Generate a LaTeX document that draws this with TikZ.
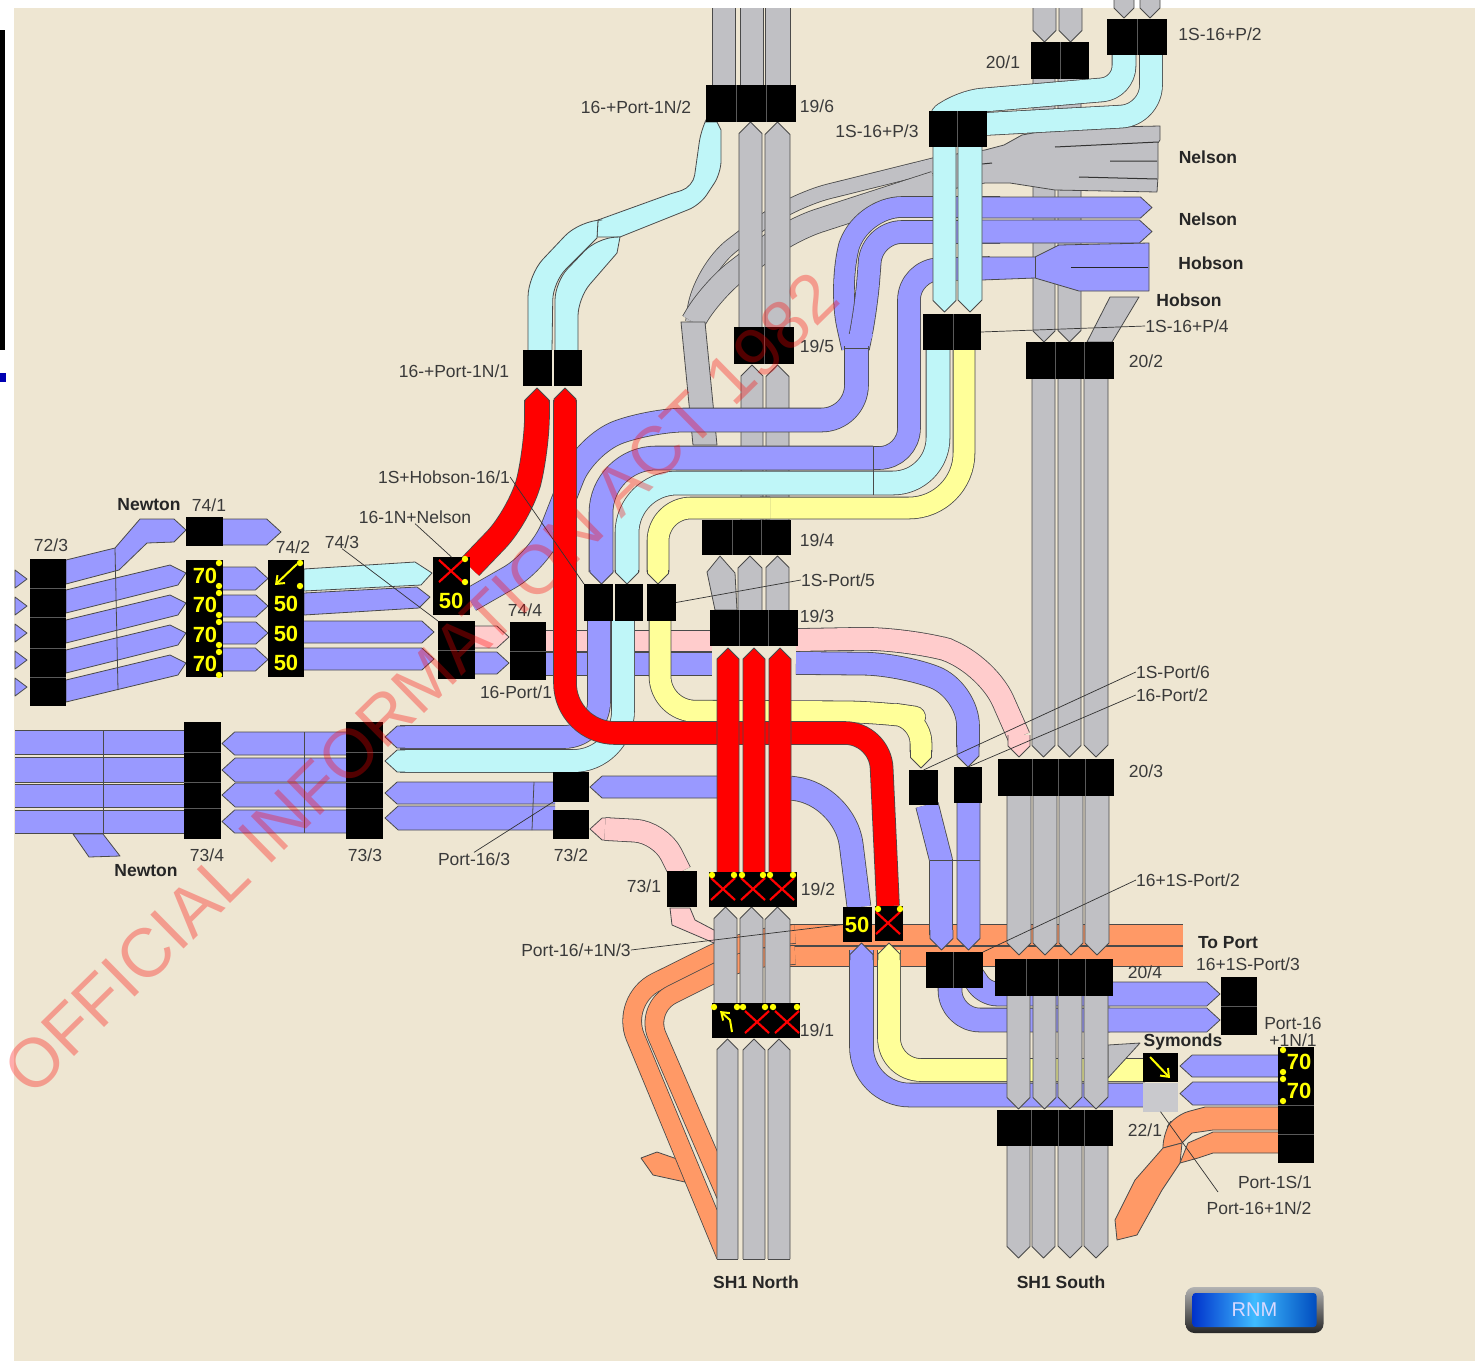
\documentclass[tikz,border=0pt]{standalone}
\usepackage{fontspec}
\setmainfont{Liberation Sans}
\usetikzlibrary{arrows.meta}
\definecolor{bgc}{HTML}{EEE6D2}
\definecolor{lblue}{HTML}{9999FF}
\definecolor{lcyan}{HTML}{BFF6F8}
\definecolor{lpink}{HTML}{FFCCCC}
\definecolor{lyel}{HTML}{FFFF99}
\definecolor{lgray}{HTML}{C0C0C4}
\definecolor{lorng}{HTML}{FF9966}
\definecolor{lred}{HTML}{FF0000}
\definecolor{edgec}{HTML}{4A4A4A}
\definecolor{txtc}{HTML}{3A3A3A}
\definecolor{sigy}{HTML}{FFFF00}
\tikzset{
 ln/.style={draw=edgec,line width=.8pt,line join=round},
 lab/.style={font=\fontsize{17.5}{18}\selectfont,text=txtc,inner sep=0pt},
 blab/.style={font=\fontsize{17.5}{18}\selectfont\bfseries,text=black!85,inner sep=0pt},
 sig/.style={font=\fontsize{22}{22}\selectfont\bfseries,text=sigy,inner sep=0pt},
 lead/.style={draw=black!80,line width=.7pt},
 bk/.style={fill=black,draw=none,inner sep=0pt,outer sep=0pt},
 subl/.style={draw=black!65!white,line width=.6pt},
 xm/.style={draw=lred,line width=2.2pt},
 arw/.style={draw=sigy,line width=2pt,-{Straight Barb[length=7pt,width=11pt]}}
}
\newcommand\myblk[5]{\node[bk,minimum width={(#4-#2)*1pt},minimum height={(#5-#3)*1pt}] (#1) at ({(#2+#4)/2},{(#3+#5)/2}) {};}
% colour, width, corner radius, path
\newcommand\mylane[4]{\draw[ln,double=#1,double distance=#2pt,rounded corners=#3pt] #4;}
\newcommand\mypoly[2]{\filldraw[ln,fill=#1] #2 -- cycle;}
\newcommand\myvdn[5]{\pgfmathsetmacro\myS{(#3-#2)*.5}
 \fill[#1] (#2,#4)--(#2,{#5-\myS})--({(#2+#3)/2},#5)--(#3,{#5-\myS})--(#3,#4)--cycle;
 \draw[ln] (#2,#4)--(#2,{#5-\myS})--({(#2+#3)/2},#5)--(#3,{#5-\myS})--(#3,#4);}
\newcommand\myvup[5]{\pgfmathsetmacro\myS{(#3-#2)*.5}
 \fill[#1] (#2,#5)--(#2,{#4+\myS})--({(#2+#3)/2},#4)--(#3,{#4+\myS})--(#3,#5)--cycle;
 \draw[ln] (#2,#5)--(#2,{#4+\myS})--({(#2+#3)/2},#4)--(#3,{#4+\myS})--(#3,#5);}
\newcommand\myvbar[5]{\fill[#1] (#2,#4) rectangle (#3,#5);\draw[ln] (#2,#4)--(#2,#5) (#3,#4)--(#3,#5);}
\newcommand\myhrt[5]{\pgfmathsetmacro\myS{(#5-#4)*.55}
 \fill[#1] (#2,#4)--({#3-\myS},#4)--(#3,{(#4+#5)/2})--({#3-\myS},#5)--(#2,#5)--cycle;
 \draw[ln] (#2,#4)--({#3-\myS},#4)--(#3,{(#4+#5)/2})--({#3-\myS},#5)--(#2,#5);}
\newcommand\myhlf[5]{\pgfmathsetmacro\myS{(#5-#4)*.55}
 \fill[#1] (#3,#4)--({#2+\myS},#4)--(#2,{(#4+#5)/2})--({#2+\myS},#5)--(#3,#5)--cycle;
 \draw[ln] (#3,#4)--({#2+\myS},#4)--(#2,{(#4+#5)/2})--({#2+\myS},#5)--(#3,#5);}
\newcommand\myhbar[5]{\fill[#1] (#2,#4) rectangle (#3,#5);\draw[ln] (#2,#4)--(#3,#4) (#2,#5)--(#3,#5);}
\newcommand\myx[2]{\draw[xm] ({#1-12},{#2-11})--({#1+12},{#2+11}) ({#1-12},{#2+11})--({#1+12},{#2-11});}
\newcommand\mydot[2]{\fill[sigy] (#1,#2) circle (3.2pt);}
\begin{document}
\begin{tikzpicture}[x=1pt,y=-1pt]
\useasboundingbox (0,0) rectangle (1484,1361);
\fill[white] (0,0) rectangle (1484,1361);
\fill[bgc] (14,8) rectangle (1475,1361);
\fill[black] (0,30) rectangle (5,350);
\fill[blue!70!black] (0,373) rectangle (6,382);

%% orange
\myhbar{lorng}{790}{1183}{924}{945}
\myhbar{lorng}{790}{1183}{946}{966}
\mypoly{lorng}{(641,1158)--(657,1152)--(680,1160)--(685,1182)--(653,1175)}
\begin{scope}
\clip (0,0)--(800,0)--(800,1100)--(720,1100)--(720,1259)--(0,1259)--cycle;
\mylane{lorng}{18}{40}{(795,934)--(745,938)--(620,1000)--(745,1302)}
\mylane{lorng}{18}{30}{(795,955)--(745,958)--(645,1008)--(760,1274)}
\end{scope}

%% gray curves behind north lanes
\mylane{lgray}{14}{40}{(935,165)--(790,201)--(700,270)--(693,322)}
\mylane{lgray}{23}{30}{(935,183)--(790,230)--(712,290)--(693,322)}
\mypoly{lgray}{(681,322)--(705,322)--(717,445)--(693,445)}

%% north gray lanes
\myvbar{lgray}{712}{735}{8}{86}
\myvbar{lgray}{740}{763}{8}{86}
\myvbar{lgray}{765}{790}{8}{86}
\myvup{lgray}{739}{762}{122}{330}
\myvup{lgray}{765}{790}{122}{330}
\myvup{lgray}{741}{763}{365}{522}
\myvup{lgray}{766}{789}{365}{522}
\mypoly{lgray}{(707,572)--(720,556)--(735,573)--(737,610)--(715,610)}
\myvup{lgray}{738}{762}{556}{612}
\myvup{lgray}{766}{789}{556}{612}
\myvup{lgray}{714}{737}{907}{1005}
\myvup{lgray}{740}{763}{907}{1005}
\myvup{lgray}{765}{790}{907}{1005}
\myvup{lgray}{717}{738}{1039}{1259}
\myvup{lgray}{743}{765}{1039}{1259}
\myvup{lgray}{768}{790}{1039}{1259}
\draw[ln] (717,1259)--(738,1259) (743,1259)--(765,1259) (768,1259)--(790,1259);

%% south gray lanes (upper)
\myvdn{lgray}{1033}{1056}{8}{42}
\myvdn{lgray}{1059}{1082}{8}{42}
\myvdn{lgray}{1114}{1134}{0}{18}
\myvdn{lgray}{1140}{1160}{0}{18}
\myvdn{lgray}{1033}{1055}{78}{342}
\myvdn{lgray}{1058}{1081}{78}{342}
\mypoly{lgray}{(1087,342)--(1110,297)--(1139,297)--(1112,342)}
\myvdn{lgray}{1032}{1055}{378}{757}
\myvdn{lgray}{1058}{1081}{378}{757}
\myvdn{lgray}{1084}{1108}{378}{757}

%% Nelson fan
\filldraw[ln,fill=lgray] (935,157)--(985,150)--(1004,145)--(1022,135)--(1060,128)--(1160,126)--(1160,140)--(1158,143)--(1158,177)--(1157,192)--(1055,190)--(1010,183)--(985,183)--(935,192);
\draw[draw=black!80,line width=1pt] (1055,147)--(1158,142) (1110,161)--(1157,161) (1079,177)--(1157,179) (982,164)--(992,163);

%% blue Nelson / Hobson
\mylane{lblue}{20}{42}{(1000,207)--(860,207)--(838,285)--(852,348)}
\mylane{lblue}{22}{30}{(1000,232)--(872,232)--(866,310)--(858,348)}
\myhrt{lblue}{982}{1152}{197}{218}
\myhrt{lblue}{982}{1152}{220}{243}
\mylane{lblue}{22}{30}{(990,268)--(909,270)--(909,458)--(873,458)}
\filldraw[ln,fill=lblue] (982,257)--(1035,257)--(1059,245)--(1149,243)--(1149,291)--(1079,291)--(1035,278)--(982,280);
\fill[lblue] (980,258) rectangle (990,279);
\draw[ln] (1035,257)--(1035,278);
\draw[draw=black!85,line width=1pt] (1071,267)--(1148,267);
\fill[lblue] (843,334)--(873,334)--(868,348)--(845,348)--cycle;
\mylane{lblue}{23}{35}{(856.5,346)--(856.5,420)--(650,420)--(585,445)--(540,560)--(470,600)}
\draw[ln] (845,348)--(868,348);
\mylane{lblue}{23}{55}{(873,458)--(601,458)--(601,572)}
\myvdn{lblue}{590}{613}{570}{584}

%% cyan/yellow horizontal
\mylane{lcyan}{23}{45}{(938,350)--(938,483)--(873,483)}
\mylane{lcyan}{23}{50}{(873,483)--(627,483)--(627,572)}
\draw[ln] (873,447)--(873,495);
\myvdn{lcyan}{615.5}{638.5}{570}{584}
\mylane{lyel}{21}{55}{(964,350)--(964,508)--(760,508)}
\mylane{lyel}{21}{33}{(770,508)--(658,508)--(658,572)}
\myvdn{lyel}{647.5}{668.5}{570}{584}

%% cyan top
\filldraw[ln,fill=lcyan] (598,220)--(670,194)[rounded corners=12pt]--(693,187)--(701,130)[sharp corners]--(705,122)--(717,122)--(721,130)[rounded corners=12pt]--(721,173)--(700,205)[sharp corners]--(620,237)--(597,237)--cycle;
\filldraw[ln,fill=lcyan] (528,350)[rounded corners=22pt]--(528,275)--(580,220)[sharp corners]--(598,220)--(597,238)[rounded corners=18pt]--(553,282)--(552,350);
\filldraw[ln,fill=lcyan] (555,350)[rounded corners=18pt]--(555,282)--(597,238)[sharp corners]--(620,237)--(617,253)[rounded corners=18pt]--(578,298)--(578,350);
\mylane{lcyan}{23}{22}{(1124,53)--(1124,88)--(960,102)--(946,113)}
\mylane{lcyan}{22}{30}{(1151,53)--(1151,115)--(985,124)}
\myvdn{lcyan}{933}{956}{145}{312}
\myvdn{lcyan}{958}{982}{145}{312}

%% pink & blue rows
\myhbar{lpink}{545}{712}{630}{651}
\myhbar{lblue}{545}{712}{652}{675}
\mylane{lpink}{22}{45}{(796,640)--(905,638)--(985,660)--(1019,737)}
\myvdn{lpink}{1008}{1030}{735}{757}
\mylane{lblue}{22}{36}{(796,663)--(900,664)--(968,690)--(968,747)}
\myvdn{lblue}{957}{979}{745}{767}

%% vertical blue/cyan under 584-643 boxes
\mylane{lblue}{22}{35}{(599,620)--(599,737)--(400,737)}
\mylane{lcyan}{22}{50}{(623,620)--(623,761)--(400,761)}
\myhlf{lblue}{385}{405}{726}{748}
\myhlf{lcyan}{385}{405}{750}{772}

%% yellow centre
\draw[ln,double=lyel,double distance=21pt] (660,620)[rounded corners=35pt]--(660,711)--(880,712)[rounded corners=25pt]--(921,718)--(921,752);
\myvdn{lyel}{910.5}{931.5}{750}{768}

%% Newton upper
\foreach \cy in {579,606,633,660,687}{\mypoly{lblue}{(15,\cy-9)--(27,\cy)--(15,\cy+9)}}
\mypoly{lblue}{(66,560)--(115,548)--(140,519)--(174,519)--(186,530)--(174,542)--(147,543)--(119,570)--(66,584)}
\mypoly{lblue}{(66,590)--(170,565)--(186,573)--(178,585)--(66,613)}
\mypoly{lblue}{(66,620)--(170,595)--(186,603)--(178,615)--(66,643)}
\mypoly{lblue}{(66,650)--(170,625)--(186,633)--(178,645)--(66,673)}
\mypoly{lblue}{(66,680)--(170,655)--(186,663)--(178,675)--(66,702)}
\draw[ln] (115,548)--(118,690);
\myhrt{lblue}{222}{281}{519}{545}
\myhrt{lblue}{222}{268}{567}{590}
\myhrt{lblue}{222}{268}{595}{617}
\myhrt{lblue}{222}{268}{622}{644}
\myhrt{lblue}{222}{268}{648}{671}
\mypoly{lcyan}{(304,569)--(415,562)--(432,573)--(421,585)--(304,591)}
\mypoly{lblue}{(304,593)--(417,587)--(430,597)--(419,608)--(304,615)}
\myhrt{lblue}{304}{434}{621}{643}
\myhrt{lblue}{304}{434}{648}{670}
\myhrt{lpink}{474}{509}{626}{648}
\myhrt{lblue}{474}{509}{652}{674}

%% Newton lower
\foreach \ya/\yb in {730/754,757/782,784/807,810/833}{\myhbar{lblue}{15}{186}{\ya}{\yb}}
\draw[ln] (103,730)--(103,833);
\mypoly{lblue}{(73,834)--(103,834)--(120,856)--(89,857)}
\foreach \ya/\yb in {732/755,758/782,783/807,810/833}{\myhlf{lblue}{222}{347}{\ya}{\yb}}
\draw[ln] (304,732)--(304,833);
\myhlf{lblue}{385}{555}{782}{804}
\myhlf{lblue}{385}{555}{806}{830}
\draw[ln] (534,782)--(532,830);
\myhlf{lblue}{590}{720}{776}{798}
\mylane{lblue}{23}{50}{(790,788)--(845,795)--(859,907)}
\myhlf{lpink}{590}{610}{818}{840}
\mylane{lpink}{22}{25}{(605,829)--(660,832)--(680,872)}
\mypoly{lpink}{(670,908)--(690,908)--(695,920)--(714,930)--(714,943)--(672,925)}

%% blue from junction to 20/4
\mylane{lblue}{22}{0.1}{(927,805)--(941,860)--(941,935)}
\myvdn{lblue}{930}{953}{930}{950}
\myvdn{lblue}{957}{980}{803}{950}
\draw[ln] (930,860)--(980,860);
\mylane{lblue}{23}{12}{(1110,994)--(985,994)--(972,975)}
\mylane{lblue}{23}{30}{(1110,1020)--(950,1020)--(950,985)}
\myhrt{lblue}{1100}{1220}{982}{1006}
\myhrt{lblue}{1100}{1220}{1008}{1032}

%% lower yellow/blue
\mylane{lyel}{22}{32}{(889,950)--(889,1070)--(1145,1070)}
\myvup{lyel}{878}{900}{943}{960}
\mylane{lblue}{23}{48}{(861.5,950)--(861.5,1095)--(1145,1095)}
\myvup{lblue}{850}{873}{943}{960}
\myhlf{lblue}{1180}{1280}{1055}{1077}
\myhlf{lblue}{1180}{1280}{1082}{1105}
\mypoly{lgray}{(1108,1045)--(1140,1043)--(1108,1078)}

%% south gray lower
\myvdn{lgray}{1007}{1031}{795}{955}
\myvdn{lgray}{1033}{1057}{795}{955}
\myvdn{lgray}{1059}{1083}{795}{955}
\myvdn{lgray}{1085}{1109}{795}{955}
\myvdn{lgray}{1007}{1030}{995}{1109}
\myvdn{lgray}{1033}{1056}{995}{1109}
\myvdn{lgray}{1058}{1082}{995}{1109}
\myvdn{lgray}{1084}{1108}{995}{1109}
\myvdn{lgray}{1007}{1030}{1145}{1258}
\myvdn{lgray}{1032}{1055}{1145}{1258}
\myvdn{lgray}{1058}{1082}{1145}{1258}
\myvdn{lgray}{1084}{1108}{1145}{1258}

%% orange right
\filldraw[ln,fill=lorng] (1278,1107)--(1205,1107)[rounded corners=14pt]--(1175,1115)--(1163,1133)[sharp corners]--(1163,1148)--(1182,1143)--(1192,1133)--(1213,1130)--(1278,1130);
\filldraw[ln,fill=lorng] (1278,1132)--(1213,1132)--(1188,1143)--(1180,1163)--(1198,1158)--(1213,1153)--(1278,1153);
\mypoly{lorng}{(1163,1148)--(1182,1143)--(1180,1163)--(1162,1190)--(1137,1235)--(1117,1240)--(1115,1220)--(1135,1180)}

%% red
\mylane{lred}{24}{35}{(537,400)--(537,450)--(520,515)--(470,567)}
\myvup{lred}{525}{549}{388}{402}
\draw[ln,double=lred,double distance=22pt] (565,400)[rounded corners=50pt]--(565,733)--(792,733)[rounded corners=35pt]--(880,733)--(888,906);
\myvup{lred}{554}{576}{388}{402}
\myvup{lred}{717}{739}{648}{873}
\myvup{lred}{743}{765}{648}{873}
\myvup{lred}{769}{791}{648}{873}

%% boxes
\myblk{b196}{706}{85}{796}{122}
\myblk{b195}{734}{327}{794}{364}
\myblk{b194}{702}{520}{791}{555}
\myblk{b193}{710}{610}{798}{646}
\myblk{b192}{709}{872}{797}{907}
\myblk{b191}{712}{1003}{800}{1038}
\myblk{b201}{1031}{42}{1089}{79}
\myblk{bP2}{1107}{19}{1167}{55}
\myblk{bP3}{929}{111}{987}{147}
\myblk{bP4}{923}{314}{981}{350}
\myblk{b202}{1026}{342}{1114}{379}
\myblk{b203}{998}{759}{1114}{796}
\myblk{b204}{995}{959}{1113}{996}
\myblk{bSo}{997}{1110}{1113}{1146}
\myblk{bJ}{926}{952}{983}{988}
\myblk{bPl1}{523}{350}{552}{386}
\myblk{bPl2}{554}{350}{582}{386}
\myblk{bA}{584}{584}{613}{621}
\myblk{bB}{615}{584}{643}{621}
\myblk{bC}{647}{584}{676}{621}
\myblk{bD}{909}{770}{938}{805}
\myblk{bE}{954}{767}{982}{803}
\myblk{b723}{30}{559}{66}{706}
\myblk{b741}{186}{517}{223}{546}
\myblk{b70}{186}{560}{223}{677}
\myblk{b742}{268}{560}{304}{677}
\myblk{bN}{433}{557}{470}{615}
\myblk{b743}{438}{621}{475}{679}
\myblk{b744}{510}{622}{546}{680}
\myblk{b734}{184}{722}{221}{839}
\myblk{b733}{346}{722}{383}{839}
\myblk{b73a}{553}{772}{589}{802}
\myblk{b73b}{553}{810}{589}{839}
\myblk{b731}{667}{871}{697}{907}
\myblk{b50}{843}{907}{872}{942}
\myblk{bX}{875}{906}{903}{941}
\myblk{bPort}{1221}{977}{1257}{1035}
\myblk{bSy}{1143}{1053}{1178}{1082}
\node[fill=lgray!85!white,inner sep=0pt,minimum width=35pt,minimum height=29pt] (bGr) at (1160.5,1097) {};
\myblk{bPN}{1278}{1047}{1314}{1163}
\draw[subl] (736,85)--(736,122) (766,85)--(766,122) (764,327)--(764,364) (732,520)--(732,555) (761,520)--(761,555) (739,610)--(739,646) (768,610)--(768,646) (1060,42)--(1060,79) (1137,19)--(1137,55) (957,111)--(957,147) (953,314)--(953,350) (1055,342)--(1055,379) (1084,342)--(1084,379) (1032,759)--(1032,796) (1058,759)--(1058,796) (1085,759)--(1085,796) (1026,959)--(1026,996) (1058,959)--(1058,996) (1085,959)--(1085,996) (1031,1110)--(1031,1146) (1058,1110)--(1058,1146) (1084,1110)--(1084,1146) (953,952)--(953,988) (30,588)--(66,588) (30,617)--(66,617) (30,648)--(66,648) (30,677)--(66,677) (184,752)--(221,752) (184,782)--(221,782) (184,808)--(221,808) (346,752)--(383,752) (346,782)--(383,782) (346,808)--(383,808) (438,650)--(475,650) (510,651)--(546,651) (1221,1006)--(1257,1006) (1278,1105)--(1314,1105) (1278,1134)--(1314,1134);

%% signals
\foreach \y/\v in {576/70,605/70,635/70,664/70}{\node[sig] at (205,\y) {\v};}
\foreach \y in {563,586,593,615,622,645,652,675}{\mydot{219}{\y}}
\foreach \y/\v in {604/50,634/50,663/50}{\node[sig] at (286,\y) {\v};}
\draw[arw] (297,564)--(275,585);
\mydot{300}{563}\mydot{300}{586}
\myx{451}{571}
\node[sig] at (451,601) {50};
\mydot{465}{559}\mydot{465}{582}
\myx{723}{889}\myx{753}{889}\myx{782}{889}
\foreach \x in {712,734,742,763,770,793}{\mydot{\x}{875}}
\foreach \x in {714,737,743,765,773,797}{\mydot{\x}{1007}}
\myx{757}{1022}\myx{787}{1022}
\draw[draw=sigy,line width=2pt,-{Straight Barb[length=7pt,width=10pt]}] (732,1032)--(730,1020)--(720,1011);
\node[sig] at (857,925) {50};
\myx{888}{923}
\mydot{878}{909}\mydot{900}{909}
\draw[arw] (1150,1057)--(1170,1078);
\node[sig] at (1299,1062) {70};
\node[sig] at (1299,1091) {70};
\mydot{1283}{1050}\mydot{1283}{1072}\mydot{1283}{1079}\mydot{1283}{1101}

%% labels
\node[lab] (n196) at (817,106) {19/6};
\node[lab] (nPN2) at (636,107) {16-+Port-1N/2};
\node[lab] (n201) at (1003,62) {20/1};
\node[lab] (nP2) at (1220,34) {1S-16+P/2};
\node[lab] (nP3) at (877,131) {1S-16+P/3};
\node[blab] (nNe1) at (1208,157) {Nelson};
\node[blab] (nNe2) at (1208,219) {Nelson};
\node[blab] (nHo1) at (1211,263) {Hobson};
\node[blab] (nHo2) at (1189,300) {Hobson};
\node[lab] (nP4) at (1187,326) {1S-16+P/4};
\node[lab] (n202) at (1146,361) {20/2};
\node[lab] (n195) at (817,346) {19/5};
\node[lab] (nPN1) at (454,371) {16-+Port-1N/1};
\node[lab] (nSH) at (444,477) {1S+Hobson-16/1};
\node[lab] (nNN) at (415,517) {16-1N+Nelson};
\node[blab] (nNw1) at (149,505) {Newton};
\node[lab] (n741) at (209,505) {74/1};
\node[lab] (n723) at (51,545) {72/3};
\node[lab] (n742) at (293,547) {74/2};
\node[lab] (n743) at (342,542) {74/3};
\node[lab] (n744) at (525,610) {74/4};
\node[lab] (nP16) at (516,692) {16-Port/1};
\node[lab] (n194) at (817,540) {19/4};
\node[lab] (nSP5) at (838,580) {1S-Port/5};
\node[lab] (n193) at (817,616) {19/3};
\node[lab] (nSP6) at (1173,672) {1S-Port/6};
\node[lab] (n16P2) at (1172,695) {16-Port/2};
\node[lab] (n203) at (1146,771) {20/3};
\node[lab] (n734) at (207,855) {73/4};
\node[lab] (n733) at (365,855) {73/3};
\node[blab] (nNw2) at (146,871) {Newton};
\node[lab] (nP163) at (474,859) {Port-16/3};
\node[lab] (n732) at (571,855) {73/2};
\node[lab] (n731) at (644,886) {73/1};
\node[lab] (n192) at (818,889) {19/2};
\node[lab] (n1SP2) at (1188,880) {16+1S-Port/2};
\node[lab] (n204) at (1145,972) {20/4};
\node[blab] (nTP) at (1228,943) {To Port};
\node[lab] (n1SP3) at (1248,964) {16+1S-Port/3};
\node[lab] (nPa) at (1293,1023) {Port-16};
\node[lab] (nPb) at (1293,1040) {+1N/1};
\node[blab] (nSy) at (1183,1042) {Symonds};
\node[lab] (n191) at (817,1030) {19/1};
\node[lab] (nP1N3) at (576,950) {Port-16/+1N/3};
\node[lab] (n221) at (1145,1130) {22/1};
\node[lab] (nPS1) at (1275,1182) {Port-1S/1};
\node[lab] (nP1N2) at (1259,1208) {Port-16+1N/2};
\node[blab] (nSN) at (756,1282) {SH1 North};
\node[blab] (nSS) at (1061,1282) {SH1 South};

%% leaders
\coordinate (cPS) at (1218,1192);
\draw[lead] (bP4.east)--(nP4.west);
\draw[lead] (bC.east)--(nSP5.west);
\draw[lead] (bD.north)--(nSP6.west);
\draw[lead] (bE.north)--(n16P2.west);
\draw[lead] (bJ.north east)--(n1SP2.west);
\draw[lead] (nSH.east)--(bA.north west);
\draw[lead] (nNN.south)--(bN.north);
\draw[lead] (n743.south)--(b743.north west);
\draw[lead] (nP163.north)--(b73a.south west);
\draw[lead] (nP1N3.east)--(b50.west);
\draw[lead] (bGr.south)--(cPS);

%% RNM button
\node[draw=none,rounded corners=9pt,minimum width=138pt,minimum height=46pt,inner sep=0pt,top color=black!30,bottom color=black!85] (fr) at (1254.5,1310) {};
\node[rounded corners=3pt,minimum width=124pt,minimum height=34pt,inner sep=0pt,left color=blue!75!cyan!80!black,right color=blue!60!cyan!75!black,middle color=blue!35!cyan!75!white,font=\fontsize{20}{20}\selectfont,text=white!85!blue] (rnm) at (1254.5,1310) {RNM};

%% watermark
\node[font=\fontsize{69}{69}\selectfont,text=red,text opacity=.32,rotate=44.5,inner sep=0pt] (wm) at (421,683) {OFFICIAL INFORMATION ACT 1982};
\end{tikzpicture}
\end{document}
